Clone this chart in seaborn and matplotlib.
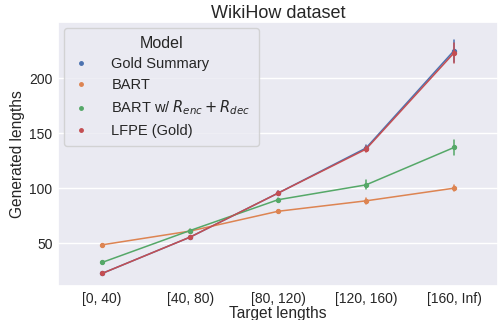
import numpy as np
import pandas as pd
import seaborn as sns
import matplotlib
matplotlib.use("Agg")
import matplotlib.pyplot as plt
from matplotlib.lines import Line2D

sns.set_theme(style="darkgrid")
plt.rcParams['font.family'] = ['Liberation Sans', 'DejaVu Sans']
plt.rcParams['mathtext.fontset'] = 'dejavusans'

bins = ["[0, 40)", "[40, 80)", "[80, 120)", "[120, 160)", "[160, Inf)"]
models = ["Gold Summary", "BART", r"BART w/ $R_{enc} + R_{dec}$", "LFPE (Gold)"]

# mean generated length per bin, and half-width of the error bar
gold_mean = [22.5, 55.5, 95.5, 136.5, 225]
gold_err = [0.5, 1, 1.5, 2.5, 10]
bart_mean = [48.5, 61, 79, 88.5, 100]
bart_err = [0.5, 1, 1.5, 3, 3]
renc_mean = [32.5, 61.5, 89.5, 103, 137]
renc_err = [0.5, 1, 2, 4, 7]
lfpe_mean = [22.5, 55.5, 95.5, 135.5, 223]
lfpe_err = [0.5, 1, 1.5, 2.5, 9]

rows = []
for name, means, errs in zip(models,
                             [gold_mean, bart_mean, renc_mean, lfpe_mean],
                             [gold_err, bart_err, renc_err, lfpe_err]):
    for b, m, e in zip(bins, means, errs):
        rows.append({"Target lengths": b, "Generated lengths": m - e, "Model": name})
        rows.append({"Target lengths": b, "Generated lengths": m + e, "Model": name})
df = pd.DataFrame(rows)

palette = sns.color_palette("deep", 4)

fig, ax = plt.subplots(figsize=(5.01, 3.2), dpi=100)
sns.pointplot(data=df, x="Target lengths", y="Generated lengths", hue="Model",
              order=bins, hue_order=models, palette=palette,
              errorbar=("pi", 100), markersize=3, linewidth=1.1,
              err_kws={"linewidth": 1.1}, ax=ax, legend=False)

handles = [Line2D([], [], marker="o", linestyle="", markersize=2.5, color=c) for c in palette]
ax.legend(handles, models, title="Model", loc="upper left", fontsize=10.5,
          title_fontsize=11.5, handlelength=1.3, handletextpad=1.4,
          borderaxespad=0.4, borderpad=0.55, labelspacing=0.45)

ax.set_title("WikiHow dataset", fontsize=13, pad=3)
ax.set_xlabel("Target lengths", fontsize=11.2, labelpad=0)
ax.set_ylabel("Generated lengths", fontsize=11.2, labelpad=3)
ax.tick_params(axis="both", labelsize=10, pad=4, length=0)
ax.set_ylim(11, 251)
ax.set_yticks([50, 100, 150, 200])

plt.subplots_adjust(left=0.116, right=0.994, top=0.931, bottom=0.106)
plt.savefig("out.png", dpi=100)
